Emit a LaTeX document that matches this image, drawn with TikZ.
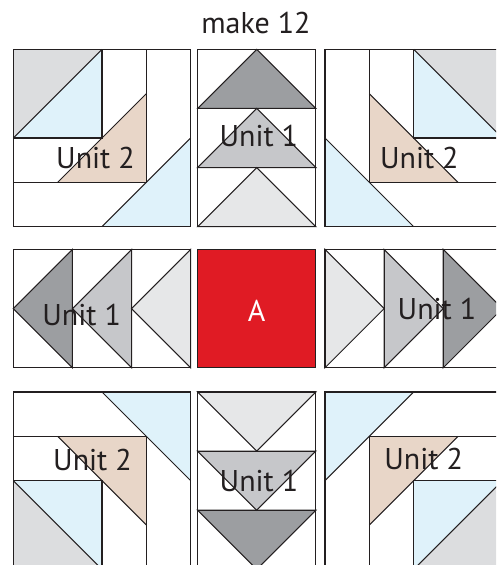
\documentclass[tikz,border=0pt]{standalone}
\usepackage{fontspec}
\setmainfont{PT Sans}

\definecolor{ink}{HTML}{231F20}
\definecolor{hstgray}{HTML}{DCDDDF}
\definecolor{skyblue}{HTML}{DFF2FA}
\definecolor{tan}{HTML}{E8D6C8}
\definecolor{geesedark}{HTML}{9C9EA1}
\definecolor{geesemid}{HTML}{C6C7CA}
\definecolor{geeselight}{HTML}{E6E7E8}
\definecolor{centrered}{HTML}{E01B24}

% Unit 2: 4x4 grid in centred coordinates (-2..2), y pointing down
\newcommand{\quiltunittwo}{%
  \fill[hstgray] (-2,-2) -- (0,-2) -- (-2,0) -- cycle;
  \fill[skyblue] (0,-2) -- (0,0) -- (-2,0) -- cycle;
  \fill[tan] (1,-1) -- (1,1) -- (-1,1) -- cycle;
  \fill[skyblue] (2,0) -- (2,2) -- (0,2) -- cycle;
  \draw[seam] (-2,0) -- (0,0) -- (0,-2);
  \draw[seam] (-2,1) -- (1,1) -- (1,-2);
  \draw[seam] (-2,0) -- (0,-2);
  \draw[seam] (-1,1) -- (1,-1);
  \draw[seam] (0,2) -- (2,0);
  \draw[seam] (-2,-2) rectangle (2,2);
}

% Unit 1: three flying-geese rows (2 wide, 3 tall), geese pointing up
\newcommand{\quiltunitone}{%
  \foreach \r/\c in {0/geesedark,1/geesemid,2/geeselight}{
    \filldraw[seam, fill=\c] (-1,-0.5+\r) -- (1,-0.5+\r) -- (0,-1.5+\r) -- cycle;
    \draw[seam] (-1,-1.5+\r) rectangle (1,-0.5+\r);
  }
}

\tikzset{
  seam/.style={draw=ink, line width=1.05pt, line join=miter},
  label/.style={text=ink, font=\fontsize{30}{30}\selectfont, inner sep=0pt, anchor=base},
  unittwo/.style={x=44.35pt, y=-44.35pt},
  unitone/.style={x=59.13pt, y=-59.13pt}
}

\begin{document}
\begin{tikzpicture}[x=1pt, y=-1pt]
\useasboundingbox (0,0) rectangle (496,565);
\clip (0,0) rectangle (496,565);

% Unit 2 corner blocks
\begin{scope}[shift={(102,138)}, unittwo]
  \quiltunittwo
\end{scope}
\begin{scope}[shift={(413.7,138)}, unittwo, xscale=-1]
  \quiltunittwo
\end{scope}
\begin{scope}[shift={(102,480.7)}, unittwo, yscale=-1]
  \quiltunittwo
\end{scope}
\begin{scope}[shift={(413.7,480.7)}, unittwo, xscale=-1, yscale=-1]
  \quiltunittwo
\end{scope}

% Unit 1 side blocks
\begin{scope}[shift={(256.7,138)}, unitone]
  \quiltunitone
\end{scope}
\begin{scope}[shift={(102,308.6)}, unitone, rotate=90]
  \quiltunitone
\end{scope}
\begin{scope}[shift={(413.7,308.6)}, unitone, rotate=-90]
  \quiltunitone
\end{scope}
\begin{scope}[shift={(256.7,480.7)}, unitone, rotate=180]
  \quiltunitone
\end{scope}

% centre square
\filldraw[seam, fill=centrered] (197.55,249.45) rectangle (315.85,367.75);

% labels
\node[label] (title) at (255.9,33.3) {make 12};
\node[label] (tl) at (95.5,168.3) {Unit 2};
\node[label] (tm) at (258.8,146.7) {Unit 1};
\node[label] (tr) at (419.3,168.3) {Unit 2};
\node[label] (ml) at (81.7,325.3) {Unit 1};
\node[label] (mc) at (256.7,321) {\textcolor{white}{A}};
\node[label] (mr) at (437,319.5) {Unit 1};
\node[label] (bl) at (92.5,470.7) {Unit 2};
\node[label] (bm) at (259,491.7) {Unit 1};
\node[label] (br) at (423.7,469.3) {Unit 2};
\end{tikzpicture}
\end{document}
